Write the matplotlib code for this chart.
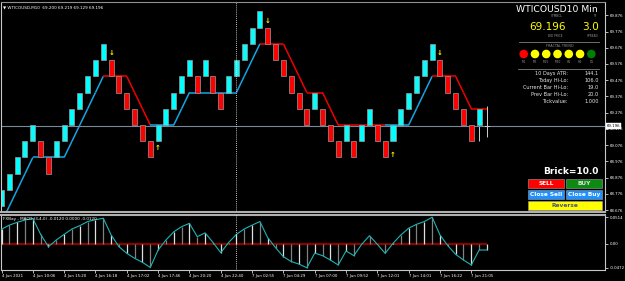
import matplotlib.pyplot as plt
from matplotlib.patches import Rectangle, Circle
from matplotlib.transforms import blended_transform_factory

# renko bricks: bottom price of each brick, 1 = up (cyan), 0 = down (red)
brick_lo = [68.7, 68.8, 68.9, 69.0, 69.1, 69.0, 68.9, 69.0, 69.1, 69.2,
            69.3, 69.4, 69.5, 69.6, 69.5, 69.4, 69.3, 69.2, 69.1, 69.0,
            69.1, 69.2, 69.3, 69.4, 69.5, 69.4, 69.5, 69.4, 69.3, 69.4,
            69.5, 69.6, 69.7, 69.8, 69.7, 69.6, 69.5, 69.4, 69.3, 69.2,
            69.3, 69.2, 69.1, 69.0, 69.1, 69.0, 69.1, 69.2, 69.1, 69.0,
            69.1, 69.2, 69.3, 69.4, 69.5, 69.6, 69.5, 69.4, 69.3, 69.2,
            69.1, 69.2]
brick_up = [1, 1, 1, 1, 1, 0, 0, 1, 1, 1,
            1, 1, 1, 1, 0, 0, 0, 0, 0, 0,
            1, 1, 1, 1, 1, 0, 1, 0, 0, 1,
            1, 1, 1, 1, 0, 0, 0, 0, 0, 0,
            1, 0, 0, 0, 1, 0, 1, 1, 0, 0,
            1, 1, 1, 1, 1, 1, 0, 0, 0, 0,
            0, 1]
brick_size = 0.1

# last two bars high/low (prev bar and forming bar)
wick_idx = [61, 62]
wick_hi = [69.3, 69.317]
wick_lo = [69.1, 69.126]
bid = 69.196

# trailing trend line and its direction per segment
trend = [68.6, 68.7, 68.8, 68.9, 69.0, 69.0, 69.0, 69.0, 69.0, 69.1,
         69.2, 69.3, 69.4, 69.5, 69.5, 69.5, 69.5, 69.4, 69.3, 69.2,
         69.2, 69.2, 69.2, 69.3, 69.4, 69.4, 69.4, 69.4, 69.4, 69.4,
         69.4, 69.5, 69.6, 69.7, 69.7, 69.7, 69.7, 69.6, 69.5, 69.4,
         69.4, 69.4, 69.3, 69.2, 69.2, 69.2, 69.2, 69.2, 69.2, 69.2,
         69.2, 69.2, 69.2, 69.3, 69.4, 69.5, 69.5, 69.5, 69.5, 69.4,
         69.3, 69.3, 69.3]
trend_up = [1, 1, 1, 1, 1, 1, 1, 1, 1, 1,
            1, 1, 1, 0, 0, 0, 0, 0, 0, 1,
            1, 1, 1, 1, 1, 1, 1, 1, 1, 1,
            1, 1, 1, 0, 0, 0, 0, 0, 0, 0,
            0, 0, 0, 0, 0, 0, 0, 0, 0, 1,
            1, 1, 1, 1, 1, 0, 0, 0, 0, 0,
            0, 0]

# fractal arrows
arrow_dn_idx = [14, 34, 56]
arrow_dn_px = [69.644, 69.842, 69.644]
arrow_up_idx = [20, 50]
arrow_up_px = [69.058, 69.015]

# MACD histogram values
macd = [0.028, 0.036, 0.0415, 0.046, 0.049, 0.018, -0.006, 0.007, 0.018, 0.0285,
        0.035, 0.043, 0.0466, 0.0495, 0.0168, -0.006, -0.019, -0.0287, -0.0365, -0.0465,
        -0.0125, 0.007, 0.023, 0.033, 0.0395, 0.0135, 0.021, 0.0025, -0.0177, 0.002,
        0.018, 0.0285, 0.036, 0.043, 0.0115, -0.008, -0.0255, -0.035, -0.040, -0.0472,
        -0.0185, -0.0235, -0.032, -0.0417, -0.0144, -0.0235, -0.0014, 0.0154, -0.0014, -0.019,
        0.0005, 0.0168, 0.030, 0.0376, 0.043, 0.0514, 0.0168, -0.004, -0.021, -0.032,
        -0.0417, -0.0125, -0.0125]

price_ticks = [68.676, 68.776, 68.876, 68.976, 69.076, 69.176, 69.276,
               69.376, 69.476, 69.576, 69.676, 69.776, 69.876]
macd_ticks = [-0.0472, 0.0, 0.0514]
macd_tick_labels = ["-0.0472", "0.00", "0.0514"]

time_idx = [0, 4, 8, 12, 16, 20, 24, 28, 32, 36, 40, 44, 48, 52, 56, 60]
time_labels = ["4 Jun 2021", "4 Jun 10:06", "4 Jun 15:20", "4 Jun 16:18",
               "4 Jun 17:02", "4 Jun 17:46", "4 Jun 20:20", "4 Jun 22:40",
               "7 Jun 02:55", "7 Jun 04:29", "7 Jun 07:00", "7 Jun 09:52",
               "7 Jun 12:01", "7 Jun 14:01", "7 Jun 16:22", "7 Jun 21:05"]
cursor_idx = 30

tf_labels = ["M1", "M5", "M15", "M30", "H1", "H4", "D1"]
tf_colors = ["#FF0000", "#FFFF00", "#FFFF00", "#FFFF00", "#FFFF00", "#FFFF00", "#008000"]
info_labels = ["10 Days ATR:", "Today Hi-Lo:", "Current Bar Hi-Lo:", "Prev Bar Hi-Lo:", "Tickvalue:"]
info_values = ["144.1", "106.0", "19.0", "20.0", "1.000"]

W, H = 625, 281
UP_C = "#00FFFF"
DN_C = "#FF0000"
LINE_UP = "#14A5E6"
LINE_DN = "#F00000"
SMALL = 2.8


def px_rect(l, t, r, b):
    return [l / W, 1 - b / H, (r - l) / W, (b - t) / H]


fig = plt.figure(figsize=(W / 100, H / 100), dpi=100, facecolor="black")
ax = fig.add_axes(px_rect(1, 2, 605, 212))
axm = fig.add_axes(px_rect(1, 215, 605, 270), sharex=ax)

step = 7.83
xmin = -0.5 / step
xmax = 603.5 / step

# ---- main renko pane ----
ax.set_facecolor("black")
idx = list(range(len(brick_lo)))
cols = [UP_C if u else DN_C for u in brick_up]
ax.vlines(wick_idx, wick_lo, wick_hi, color="#d0d0d0", lw=0.7, zorder=2)
ax.bar(idx, [brick_size] * len(idx), bottom=brick_lo, width=0.64, color=cols,
       edgecolor="#9a9a9a", linewidth=0.5, zorder=3)
ax.plot([wick_idx[-1] - 0.25, wick_idx[-1] + 0.25], [bid, bid], color="#d0d0d0", lw=0.7, zorder=3)

for k in range(len(trend) - 1):
    ax.plot([k, k + 1], trend[k:k + 2], color=LINE_UP if trend_up[k] else LINE_DN,
            lw=1.1, zorder=2, solid_capstyle="butt")

ax.axhline(bid, color="#7a8898", lw=0.8, zorder=2.5)
ax.axvline(cursor_idx, color="white", lw=0.6, ls=(0, (1, 1.5)), zorder=4)

for i, p in zip(arrow_dn_idx, arrow_dn_px):
    ax.text(i, p, "\u2193", color="#FFFF00", fontsize=5, ha="center", va="center",
            fontweight="bold", zorder=5)
for i, p in zip(arrow_up_idx, arrow_up_px):
    ax.text(i, p, "\u2191", color="#FFFF00", fontsize=5, ha="center", va="center",
            fontweight="bold", zorder=5)

ax.set_xlim(xmin, xmax)
ax.set_ylim(69.2 - 87 / 162.3, 69.2 + 123 / 162.3)
ax.yaxis.tick_right()
ax.set_yticks(price_ticks)
ax.set_yticklabels([f"{t:.3f}" for t in price_ticks])
ax.tick_params(axis="y", colors="white", labelsize=SMALL, length=2, width=0.5, pad=1.5)
ax.tick_params(axis="x", bottom=False, labelbottom=False)
ax.spines["left"].set_color("#c8c8c8")
ax.spines["right"].set_color("#c8c8c8")
ax.spines["top"].set_color("#909090")
ax.spines["bottom"].set_color("#b0b0b0")
ax.spines["bottom"].set_linewidth(1.5)
for s in ax.spines.values():
    s.set_zorder(6)

trans = blended_transform_factory(ax.transAxes, ax.transData)
ax.text(1.003, bid, f"{bid:.3f}", transform=trans, fontsize=SMALL, color="black",
        ha="left", va="center", clip_on=False, zorder=7,
        bbox=dict(boxstyle="square,pad=0.25", fc="white", ec="white", lw=0.3))
ax.text(0.004, 0.975, "\u25bc WTICOUSD,M10  69.200 69.219 69.129 69.196", transform=ax.transAxes,
        color="white", fontsize=3, ha="left", va="center")

# ---- MACD pane ----
axm.set_facecolor("black")
midx = list(range(len(macd)))
bar_cols = ["#e0e0e0" if k % 2 == 0 else "#808080" for k in midx]
axm.hlines(0, -0.2, midx[-1], color="#8B0000", lw=1.6, zorder=1)
axm.vlines(midx, 0, macd, colors=bar_cols, lw=0.9, zorder=2)
axm.plot(midx, macd, color="#1FB3B3", lw=0.8, zorder=3)
axm.axvline(cursor_idx, color="white", lw=0.6, ls=(0, (1, 1.5)), zorder=4)
axm.set_ylim(-26.4 * 0.00195, 28.6 * 0.00195)
axm.yaxis.tick_right()
axm.set_yticks(macd_ticks)
axm.set_yticklabels(macd_tick_labels)
axm.tick_params(axis="y", colors="white", labelsize=SMALL, length=2, width=0.5, pad=1.5)
axm.set_xticks(time_idx)
axm.set_xticklabels(time_labels)
axm.tick_params(axis="x", colors="white", labelsize=SMALL, length=2, width=0.5, pad=1)
for lab in axm.get_xticklabels():
    lab.set_horizontalalignment("left")
axm.spines["top"].set_color("#b0b0b0")
axm.spines["top"].set_linewidth(1.5)
for s in ["left", "right", "bottom"]:
    axm.spines[s].set_color("#c8c8c8")
axm.text(0.004, 0.93, "FXBay - MACD (3,4,0) -0.0120 0.0000 -0.0120", transform=axm.transAxes,
         color="white", fontsize=3, ha="left", va="center")
axm.set_xlim(xmin, xmax)

# ---- info panel overlay (pixel coordinates) ----
ui = fig.add_axes([0, 0, 1, 1])
ui.set_xlim(0, W)
ui.set_ylim(H, 0)
ui.axis("off")

ui.text(598, 9, "WTICOUSD10 Min", color="white", fontsize=6.7, ha="right", va="center")
ui.text(557, 15.7, "SYMBOL", color="#909090", fontsize=2.2, ha="center", va="center")
ui.text(595, 15.7, "TF", color="#909090", fontsize=2.2, ha="center", va="center")
ui.text(547, 27, f"{bid:.3f}", color="#FFFF00", fontsize=7.6, ha="center", va="center")
ui.text(591, 27, "3.0", color="#FFFF00", fontsize=7.6, ha="center", va="center")
ui.text(555, 36, "BID PRICE", color="#909090", fontsize=2.2, ha="center", va="center")
ui.text(593, 36, "SPREAD", color="#909090", fontsize=2.2, ha="center", va="center")
ui.plot([519, 599], [41.5, 41.5], color="#808080", lw=0.6)
ui.text(560, 46, "FRACTAL TREND", color="#909090", fontsize=2.4, ha="center", va="center")
for k, (lab, col) in enumerate(zip(tf_labels, tf_colors)):
    cx = 523.7 + k * 11.27
    ui.add_patch(Circle((cx, 54), 3.6, color=col))
    ui.text(cx, 62, lab, color="#909090", fontsize=2.2, ha="center", va="center")
ui.plot([518, 599], [68.7, 68.7], color="#808080", lw=0.6)
for k, (lab, val) in enumerate(zip(info_labels, info_values)):
    yy = 73.3 + k * 7
    ui.text(568, yy, lab, color="#e8e8e8", fontsize=3.6, ha="right", va="center")
    ui.text(599, yy, val, color="#e8e8e8", fontsize=3.6, ha="right", va="center")

ui.text(598, 171, "Brick=10.0", color="white", fontsize=6.5, fontweight="bold",
        ha="right", va="center")
buttons = [("SELL", 528, 179, 36.3, "#FF0000", "white"),
           ("BUY", 565.7, 179, 36.3, "#0C8A12", "#e0e0e0"),
           ("Close Sell", 528, 190, 36.3, "#1E90FF", "white"),
           ("Close Buy", 565.7, 190, 36.3, "#1E90FF", "white"),
           ("Reverse", 528, 201, 74, "#FFFF00", "#50508a")]
for lab, bx, by, bw, fc, tc in buttons:
    ui.add_patch(Rectangle((bx, by), bw, 9.2, facecolor=fc, edgecolor="#a0a0a0", lw=0.4))
    ui.text(bx + bw / 2, by + 4.8, lab, color=tc, fontsize=4.2, fontweight="bold",
            ha="center", va="center")

fig.savefig("out.png", dpi=100, facecolor="black")
